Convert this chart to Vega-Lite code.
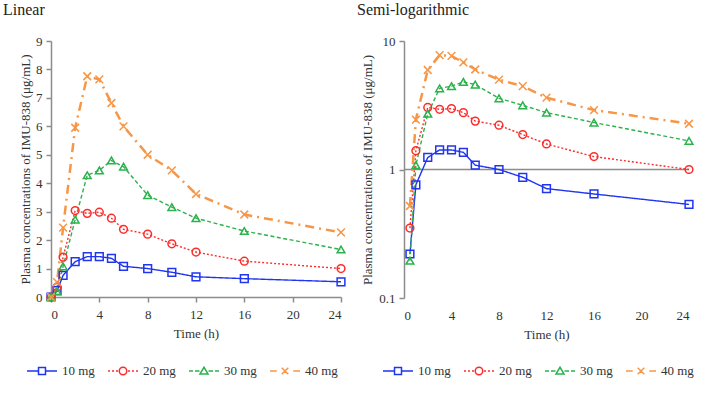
{
  "$schema": "https://vega.github.io/schema/vega-lite/v6.json",
  "padding": {"left": 3, "top": 2, "right": 2, "bottom": 2},
  "background": "white",
  "config": {
    "font": "Liberation Serif",
    "view": {"stroke": null},
    "axis": {
      "domainColor": "#8c8c8c", "domainWidth": 1.5, "tickColor": "#8c8c8c", "tickWidth": 1.5, "tickSize": 5,
      "labelFont": "Liberation Serif", "labelFontSize": 13, "labelColor": "#333333", "labelPadding": 4, "labelOverlap": false,
      "titleFont": "Liberation Serif", "titleFontSize": 13, "titleFontWeight": "normal", "titleColor": "#333333",
      "grid": false
    },
    "title": {"font": "Liberation Serif", "fontSize": 16, "fontWeight": "normal", "color": "#222222", "anchor": "start", "frame": "group"},
    "legend": {
      "orient": "none", "direction": "horizontal", "columns": 4, "symbolSize": 900, "symbolStrokeWidth": 1.5,
      "labelFont": "Liberation Serif", "labelFontSize": 13, "labelColor": "#333333", "labelOffset": 4, "columnPadding": 10
    }
  },
  "datasets": {
    "pk": [
      {"t": 0, "dose": "10 mg", "c": 0}, {"t": 0.5, "dose": "10 mg", "c": 0.22}, {"t": 1, "dose": "10 mg", "c": 0.76},
      {"t": 2, "dose": "10 mg", "c": 1.24}, {"t": 3, "dose": "10 mg", "c": 1.42}, {"t": 4, "dose": "10 mg", "c": 1.42},
      {"t": 5, "dose": "10 mg", "c": 1.36}, {"t": 6, "dose": "10 mg", "c": 1.08}, {"t": 8, "dose": "10 mg", "c": 1.0},
      {"t": 10, "dose": "10 mg", "c": 0.87}, {"t": 12, "dose": "10 mg", "c": 0.71}, {"t": 16, "dose": "10 mg", "c": 0.645},
      {"t": 24, "dose": "10 mg", "c": 0.535},
      {"t": 0, "dose": "20 mg", "c": 0}, {"t": 0.5, "dose": "20 mg", "c": 0.35}, {"t": 1, "dose": "20 mg", "c": 1.4},
      {"t": 2, "dose": "20 mg", "c": 3.04}, {"t": 3, "dose": "20 mg", "c": 2.94}, {"t": 4, "dose": "20 mg", "c": 2.98},
      {"t": 5, "dose": "20 mg", "c": 2.77}, {"t": 6, "dose": "20 mg", "c": 2.38}, {"t": 8, "dose": "20 mg", "c": 2.21},
      {"t": 10, "dose": "20 mg", "c": 1.87}, {"t": 12, "dose": "20 mg", "c": 1.58}, {"t": 16, "dose": "20 mg", "c": 1.26},
      {"t": 24, "dose": "20 mg", "c": 1.0},
      {"t": 0, "dose": "30 mg", "c": 0}, {"t": 0.5, "dose": "30 mg", "c": 0.195}, {"t": 1, "dose": "30 mg", "c": 1.08},
      {"t": 2, "dose": "30 mg", "c": 2.72}, {"t": 3, "dose": "30 mg", "c": 4.28}, {"t": 4, "dose": "30 mg", "c": 4.45},
      {"t": 5, "dose": "30 mg", "c": 4.8}, {"t": 6, "dose": "30 mg", "c": 4.58}, {"t": 8, "dose": "30 mg", "c": 3.58},
      {"t": 10, "dose": "30 mg", "c": 3.16}, {"t": 12, "dose": "30 mg", "c": 2.77}, {"t": 16, "dose": "30 mg", "c": 2.32},
      {"t": 24, "dose": "30 mg", "c": 1.67},
      {"t": 0, "dose": "40 mg", "c": 0}, {"t": 0.5, "dose": "40 mg", "c": 0.52}, {"t": 1, "dose": "40 mg", "c": 2.44},
      {"t": 2, "dose": "40 mg", "c": 5.95}, {"t": 3, "dose": "40 mg", "c": 7.76}, {"t": 4, "dose": "40 mg", "c": 7.65},
      {"t": 5, "dose": "40 mg", "c": 6.82}, {"t": 6, "dose": "40 mg", "c": 6.0}, {"t": 8, "dose": "40 mg", "c": 5.0},
      {"t": 10, "dose": "40 mg", "c": 4.45}, {"t": 12, "dose": "40 mg", "c": 3.62}, {"t": 16, "dose": "40 mg", "c": 2.9},
      {"t": 24, "dose": "40 mg", "c": 2.27}
    ]
  },
  "spacing": 9,
  "resolve": {
    "scale": {"color": "independent", "stroke": "independent", "shape": "independent", "strokeDash": "independent"},
    "legend": {"color": "independent", "stroke": "independent", "shape": "independent", "strokeDash": "independent"}
  },
  "hconcat": [
    {
      "title": {"text": "Linear", "dx": -48, "offset": 17},
      "width": 290,
      "height": 256,
      "data": {"name": "pk"},
      "encoding": {
        "x": {"field": "t", "type": "quantitative", "scale": {"domain": [0, 24], "nice": false},
              "axis": {"values": [0, 4, 8, 12, 16, 20, 24], "title": "Time (h)", "labelPadding": 6, "titlePadding": 6}},
        "y": {"field": "c", "type": "quantitative", "scale": {"domain": [0, 9], "nice": false},
              "axis": {"values": [0, 1, 2, 3, 4, 5, 6, 7, 8, 9], "title": "Plasma concentrations of IMU-838 (μg/mL)", "titlePadding": 3}}
      },
      "resolve": {
        "scale": {"shape": "independent", "color": "independent"},
        "legend": {"shape": "independent", "color": "independent"}
      },
      "layer": [
        {
          "mark": {"type": "line", "clip": false},
          "encoding": {
            "stroke": {"field": "dose", "type": "nominal", "legend": null,
                       "scale": {"range": ["#1f35f0", "#ff2b2b", "#2bb24c", "#f79646"]}},
            "strokeDash": {"field": "dose", "type": "nominal", "legend": null,
                           "scale": {"range": [[1, 0], [2, 2], [4, 2.5], [9, 5, 2, 5]]}},
            "strokeWidth": {"condition": {"test": "datum.dose === '40 mg'", "value": 2.5}, "value": 1.4}
          }
        },
        {
          "mark": {"type": "point", "filled": false, "size": 60, "strokeWidth": 1.5, "opacity": 1, "clip": false},
          "encoding": {
            "shape": {"field": "dose", "type": "nominal", "legend": null,
                      "scale": {"range": ["square", "circle", "triangle-up", "M-1,-1L1,1M-1,1L1,-1"]}},
            "stroke": {"field": "dose", "type": "nominal", "legend": null,
                       "scale": {"range": ["#1f35f0", "#ff2b2b", "#2bb24c", "#f79646"]}}
          }
        },
        {
          "transform": [{"filter": "datum.t < 0"}],
          "mark": {"type": "point", "filled": false, "strokeWidth": 1.5, "opacity": 1},
          "encoding": {
            "color": {"field": "dose", "type": "nominal",
                      "scale": {"domain": ["10 mg", "20 mg", "30 mg", "40 mg"], "range": ["#1f35f0", "#ff2b2b", "#2bb24c", "#f79646"]},
                      "legend": {"title": null, "orient": "none", "legendX": -25, "legendY": 314}},
            "shape": {"field": "dose", "type": "nominal",
                      "scale": {"domain": ["10 mg", "20 mg", "30 mg", "40 mg"], "range": [
                        "M-1,0L-0.233,0M0.233,0L1,0M-0.233,-0.233L0.233,-0.233L0.233,0.233L-0.233,0.233Z",
                        "M-1,0L-0.867,0M-0.733,0L-0.6,0M-0.467,0L-0.333,0M-0.25,0A0.25,0.25 0 1,0 0.25,0A0.25,0.25 0 1,0 -0.25,0M0.333,0L0.467,0M0.6,0L0.733,0M0.867,0L1,0",
                        "M-1,0L-0.733,0M-0.6,0L-0.3,0M0,-0.25L0.27,0.2L-0.27,0.2ZM0.3,0L0.6,0M0.733,0L1,0",
                        "M-1,0L-0.55,0M-0.22,-0.22L0.22,0.22M-0.22,0.22L0.22,-0.22M0.55,0L1,0"]},
                      "legend": {"title": null, "orient": "none", "legendX": -25, "legendY": 314}}
          }
        }
      ]
    },
    {
      "title": {"text": "Semi-logarithmic", "dx": -47, "offset": 17},
      "width": 285,
      "height": 257,
      "resolve": {
        "scale": {"shape": "independent", "color": "independent"},
        "legend": {"shape": "independent", "color": "independent"}
      },
      "layer": [
        {
          "data": {"values": [{"t0": 0, "t1": 24, "level": 1}]},
          "mark": {"type": "rule", "color": "#8c8c8c", "strokeWidth": 1.5},
          "encoding": {
            "x": {"field": "t0", "type": "quantitative", "scale": {"domain": [0, 24], "nice": false},
                  "axis": {"values": [0, 4, 8, 12, 16, 20, 24], "title": "Time (h)", "domain": false, "ticks": false, "labelPadding": 11, "titlePadding": 6}},
            "x2": {"field": "t1"},
            "y": {"field": "level", "type": "quantitative", "scale": {"type": "log", "domain": [0.1, 10], "nice": false},
                  "axis": {"values": [0.1, 1, 10], "format": "~g", "title": "Plasma concentrations of IMU-838 (μg/mL)", "titlePadding": 4}}
          }
        },
        {
          "data": {"name": "pk"},
          "transform": [{"filter": "datum.t > 0"}],
          "mark": {"type": "line", "clip": false},
          "encoding": {
            "x": {"field": "t", "type": "quantitative", "scale": {"domain": [0, 24], "nice": false},
                  "axis": {"values": [0, 4, 8, 12, 16, 20, 24], "title": "Time (h)", "domain": false, "ticks": false, "labelPadding": 11, "titlePadding": 6}},
            "y": {"field": "c", "type": "quantitative", "scale": {"type": "log", "domain": [0.1, 10], "nice": false},
                  "axis": {"values": [0.1, 1, 10], "format": "~g", "title": "Plasma concentrations of IMU-838 (μg/mL)", "titlePadding": 4}},
            "stroke": {"field": "dose", "type": "nominal", "legend": null,
                       "scale": {"range": ["#1f35f0", "#ff2b2b", "#2bb24c", "#f79646"]}},
            "strokeDash": {"field": "dose", "type": "nominal", "legend": null,
                           "scale": {"range": [[1, 0], [2, 2], [4, 2.5], [9, 5, 2, 5]]}},
            "strokeWidth": {"condition": {"test": "datum.dose === '40 mg'", "value": 2.5}, "value": 1.4}
          }
        },
        {
          "data": {"name": "pk"},
          "transform": [{"filter": "datum.t > 0"}],
          "mark": {"type": "point", "filled": false, "size": 60, "strokeWidth": 1.5, "opacity": 1, "clip": false},
          "encoding": {
            "x": {"field": "t", "type": "quantitative", "scale": {"domain": [0, 24], "nice": false},
                  "axis": {"values": [0, 4, 8, 12, 16, 20, 24], "title": "Time (h)", "domain": false, "ticks": false, "labelPadding": 11, "titlePadding": 6}},
            "y": {"field": "c", "type": "quantitative", "scale": {"type": "log", "domain": [0.1, 10], "nice": false},
                  "axis": {"values": [0.1, 1, 10], "format": "~g", "title": "Plasma concentrations of IMU-838 (μg/mL)", "titlePadding": 4}},
            "shape": {"field": "dose", "type": "nominal", "legend": null,
                      "scale": {"range": ["square", "circle", "triangle-up", "M-1,-1L1,1M-1,1L1,-1"]}},
            "stroke": {"field": "dose", "type": "nominal", "legend": null,
                       "scale": {"range": ["#1f35f0", "#ff2b2b", "#2bb24c", "#f79646"]}}
          }
        },
        {
          "data": {"name": "pk"},
          "transform": [{"filter": "datum.t < 0"}],
          "mark": {"type": "point", "filled": false, "strokeWidth": 1.5, "opacity": 1},
          "encoding": {
            "x": {"field": "t", "type": "quantitative", "scale": {"domain": [0, 24], "nice": false},
                  "axis": {"values": [0, 4, 8, 12, 16, 20, 24], "title": "Time (h)", "domain": false, "ticks": false, "labelPadding": 11, "titlePadding": 6}},
            "y": {"field": "c", "type": "quantitative", "scale": {"type": "log", "domain": [0.1, 10], "nice": false},
                  "axis": {"values": [0.1, 1, 10], "format": "~g", "title": "Plasma concentrations of IMU-838 (μg/mL)", "titlePadding": 4}},
            "color": {"field": "dose", "type": "nominal",
                      "scale": {"domain": ["10 mg", "20 mg", "30 mg", "40 mg"], "range": ["#1f35f0", "#ff2b2b", "#2bb24c", "#f79646"]},
                      "legend": {"title": null, "orient": "none", "legendX": -22, "legendY": 314}},
            "shape": {"field": "dose", "type": "nominal",
                      "scale": {"domain": ["10 mg", "20 mg", "30 mg", "40 mg"], "range": [
                        "M-1,0L-0.233,0M0.233,0L1,0M-0.233,-0.233L0.233,-0.233L0.233,0.233L-0.233,0.233Z",
                        "M-1,0L-0.867,0M-0.733,0L-0.6,0M-0.467,0L-0.333,0M-0.25,0A0.25,0.25 0 1,0 0.25,0A0.25,0.25 0 1,0 -0.25,0M0.333,0L0.467,0M0.6,0L0.733,0M0.867,0L1,0",
                        "M-1,0L-0.733,0M-0.6,0L-0.3,0M0,-0.25L0.27,0.2L-0.27,0.2ZM0.3,0L0.6,0M0.733,0L1,0",
                        "M-1,0L-0.55,0M-0.22,-0.22L0.22,0.22M-0.22,0.22L0.22,-0.22M0.55,0L1,0"]},
                      "legend": {"title": null, "orient": "none", "legendX": -22, "legendY": 314}}
          }
        }
      ]
    }
  ]
}
